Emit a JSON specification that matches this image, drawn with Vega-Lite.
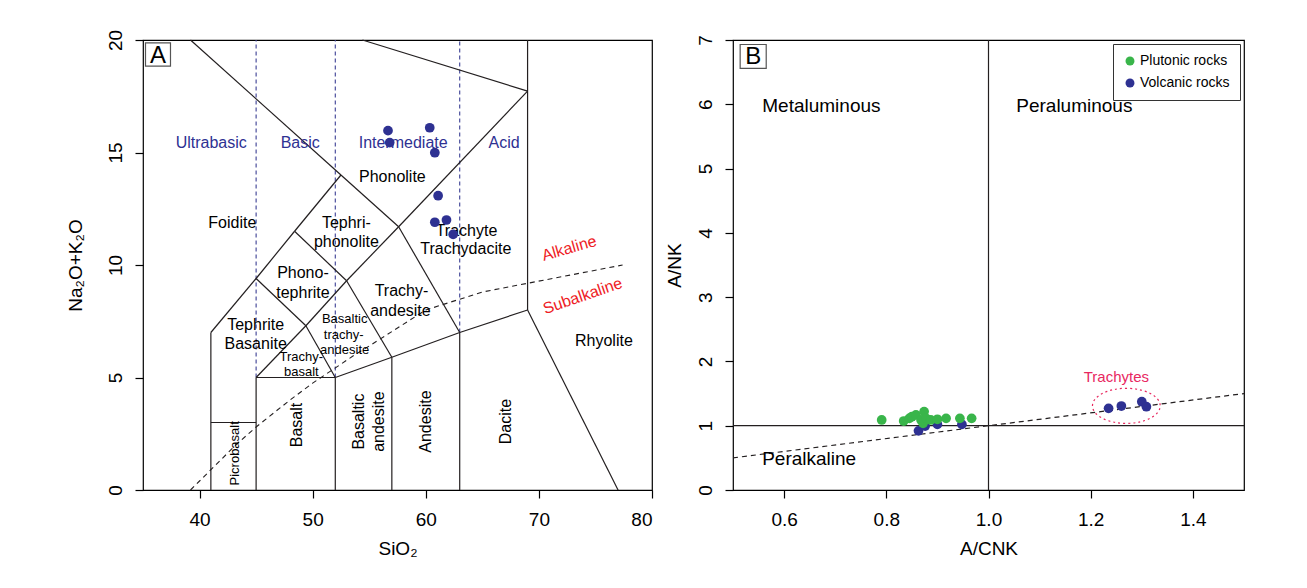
{
  "$schema": "https://vega.github.io/schema/vega-lite/v6.json",
  "background": "white",
  "padding": {"left": 65, "top": 28, "right": 5, "bottom": 5},
  "spacing": 10,
  "resolve": {"scale": {"color": "independent"}, "legend": {"color": "independent"}},
  "config": {
    "font": "Liberation Sans",
    "view": {"stroke": "#000", "strokeWidth": 1.2},
    "axis": {"domain": false, "grid": false, "ticks": true, "tickSize": 8, "tickColor": "#000", "tickWidth": 1.2, "labelColor": "#000", "labelFontSize": 19, "titleFontSize": 19, "titleFontWeight": "normal", "titleColor": "#000", "labelFont": "Liberation Sans", "titleFont": "Liberation Sans"},
    "axisY": {"labelAngle": 270, "labelAlign": "center", "labelBaseline": "bottom", "labelPadding": 10},
    "axisX": {"labelPadding": 12, "titlePadding": 10}
  },
  "datasets": {
    "tasLines": [
      {"x1": 41, "y1": 0, "x2": 41, "y2": 7},
      {"x1": 41, "y1": 7, "x2": 45, "y2": 9.4},
      {"x1": 45, "y1": 9.4, "x2": 48.4, "y2": 11.5},
      {"x1": 48.4, "y1": 11.5, "x2": 52.5, "y2": 14},
      {"x1": 52.5, "y1": 14, "x2": 39.2, "y2": 20},
      {"x1": 45, "y1": 9.4, "x2": 49.4, "y2": 7.3},
      {"x1": 49.4, "y1": 7.3, "x2": 52, "y2": 5},
      {"x1": 45, "y1": 5, "x2": 49.4, "y2": 7.3},
      {"x1": 49.4, "y1": 7.3, "x2": 53, "y2": 9.3},
      {"x1": 53, "y1": 9.3, "x2": 57.6, "y2": 11.7},
      {"x1": 57.6, "y1": 11.7, "x2": 69, "y2": 17.73},
      {"x1": 48.4, "y1": 11.5, "x2": 53, "y2": 9.3},
      {"x1": 53, "y1": 9.3, "x2": 57, "y2": 5.9},
      {"x1": 52.5, "y1": 14, "x2": 57.6, "y2": 11.7},
      {"x1": 57.6, "y1": 11.7, "x2": 63, "y2": 7},
      {"x1": 45, "y1": 5, "x2": 52, "y2": 5},
      {"x1": 45, "y1": 0, "x2": 45, "y2": 5},
      {"x1": 41, "y1": 3, "x2": 45, "y2": 3},
      {"x1": 52, "y1": 0, "x2": 52, "y2": 5},
      {"x1": 52, "y1": 5, "x2": 57, "y2": 5.9},
      {"x1": 57, "y1": 5.9, "x2": 63, "y2": 7},
      {"x1": 63, "y1": 7, "x2": 69, "y2": 8},
      {"x1": 57, "y1": 0, "x2": 57, "y2": 5.9},
      {"x1": 63, "y1": 0, "x2": 63, "y2": 7},
      {"x1": 69, "y1": 8, "x2": 69, "y2": 20},
      {"x1": 69, "y1": 8, "x2": 77, "y2": 0},
      {"x1": 69, "y1": 17.73, "x2": 54.4, "y2": 20}
    ],
    "tasDash": [
      {"x1": 45, "y1": 5, "y2": 20},
      {"x1": 52, "y1": 5, "y2": 20},
      {"x1": 63, "y1": 7, "y2": 20}
    ],
    "alkCurve": [
      {"x": 39.2, "y": 0}, {"x": 40, "y": 0.4}, {"x": 43.2, "y": 2}, {"x": 45, "y": 2.8},
      {"x": 48, "y": 4}, {"x": 50, "y": 4.75}, {"x": 53.7, "y": 6}, {"x": 55, "y": 6.4},
      {"x": 60, "y": 8}, {"x": 65, "y": 8.8}, {"x": 77.4, "y": 10}
    ],
    "tasText16": [
      {"t": "Foidite", "x": 42.9, "y": 11.88},
      {"t": "Phonolite", "x": 57.05, "y": 13.9},
      {"t": "Tephri-", "x": 52.98, "y": 11.85},
      {"t": "phonolite", "x": 52.98, "y": 11.02},
      {"t": "Phono-", "x": 49.14, "y": 9.66},
      {"t": "tephrite", "x": 49.14, "y": 8.77},
      {"t": "Trachyte", "x": 63.6, "y": 11.52},
      {"t": "Trachydacite", "x": 63.54, "y": 10.7},
      {"t": "Trachy-", "x": 57.85, "y": 8.86},
      {"t": "andesite", "x": 57.76, "y": 7.97},
      {"t": "Tephrite", "x": 44.96, "y": 7.33},
      {"t": "Basanite", "x": 44.96, "y": 6.47},
      {"t": "Rhyolite", "x": 75.75, "y": 6.64}
    ],
    "tasText13": [
      {"t": "Basaltic", "x": 52.83, "y": 7.6},
      {"t": "trachy-", "x": 52.74, "y": 6.89},
      {"t": "andesite", "x": 52.83, "y": 6.22},
      {"t": "Trachy-", "x": 49.0, "y": 5.9},
      {"t": "basalt", "x": 49.0, "y": 5.26}
    ],
    "tasRot16": [
      {"t": "Basalt", "x": 48.6, "y": 2.89},
      {"t": "Basaltic", "x": 54.07, "y": 3.04},
      {"t": "andesite", "x": 55.87, "y": 3.04},
      {"t": "Andesite", "x": 60.0, "y": 3.04},
      {"t": "Dacite", "x": 67.05, "y": 3.04}
    ],
    "tasRot13": [
      {"t": "Picrobasalt", "x": 43.1, "y": 1.63}
    ],
    "tasBlue": [
      {"t": "Ultrabasic", "x": 41.03, "y": 15.41},
      {"t": "Basic", "x": 48.9, "y": 15.41},
      {"t": "Intermediate", "x": 58.0, "y": 15.41},
      {"t": "Acid", "x": 66.93, "y": 15.41}
    ],
    "tasAlk": [{"t": "Alkaline", "x": 72.68, "y": 10.74}],
    "tasSub": [{"t": "Subalkaline", "x": 73.87, "y": 8.62}],
    "tasPoints": [
      {"x": 56.66, "y": 15.97}, {"x": 56.81, "y": 15.44}, {"x": 60.35, "y": 16.1},
      {"x": 60.8, "y": 14.99}, {"x": 61.09, "y": 13.08}, {"x": 60.8, "y": 11.9},
      {"x": 61.83, "y": 12.0}, {"x": 62.42, "y": 11.36}
    ],
    "boxA": [{"t": "A", "x1": 35.22, "x2": 37.43, "y1": 18.84, "y2": 19.87, "x": 36.33, "y": 19.35}],
    "boxB": [{"t": "B", "x1": 0.514, "x2": 0.565, "y1": 6.56, "y2": 6.93, "x": 0.5395, "y": 6.745}],
    "bLines": [
      {"x1": 1.0, "y1": 0, "x2": 1.0, "y2": 7},
      {"x1": 0.5, "y1": 1, "x2": 1.5, "y2": 1}
    ],
    "bDash": [{"x1": 0.5, "y1": 0.5, "x2": 1.5, "y2": 1.5}],
    "bPoints": [
      {"g": "Volcanic rocks", "x": 0.863, "y": 0.92},
      {"g": "Volcanic rocks", "x": 0.876, "y": 0.995},
      {"g": "Volcanic rocks", "x": 0.9, "y": 1.02},
      {"g": "Volcanic rocks", "x": 0.948, "y": 1.02},
      {"g": "Volcanic rocks", "x": 1.235, "y": 1.27},
      {"g": "Volcanic rocks", "x": 1.26, "y": 1.306},
      {"g": "Volcanic rocks", "x": 1.3, "y": 1.373},
      {"g": "Volcanic rocks", "x": 1.309, "y": 1.296},
      {"g": "Plutonic rocks", "x": 0.791, "y": 1.089},
      {"g": "Plutonic rocks", "x": 0.834, "y": 1.073},
      {"g": "Plutonic rocks", "x": 0.845, "y": 1.115},
      {"g": "Plutonic rocks", "x": 0.85, "y": 1.14},
      {"g": "Plutonic rocks", "x": 0.858, "y": 1.167},
      {"g": "Plutonic rocks", "x": 0.868, "y": 1.089},
      {"g": "Plutonic rocks", "x": 0.874, "y": 1.22},
      {"g": "Plutonic rocks", "x": 0.872, "y": 1.037},
      {"g": "Plutonic rocks", "x": 0.878, "y": 1.115},
      {"g": "Plutonic rocks", "x": 0.887, "y": 1.089},
      {"g": "Plutonic rocks", "x": 0.9, "y": 1.1},
      {"g": "Plutonic rocks", "x": 0.917, "y": 1.115},
      {"g": "Plutonic rocks", "x": 0.944, "y": 1.115},
      {"g": "Plutonic rocks", "x": 0.967, "y": 1.115}
    ],
    "bEllipse": [{"x": 1.2697, "y": 1.309}],
    "bText19": [
      {"t": "Metaluminous", "x": 0.673, "y": 5.977},
      {"t": "Peraluminous", "x": 1.168, "y": 5.977},
      {"t": "Peralkaline", "x": 0.649, "y": 0.49}
    ],
    "bTrach": [{"t": "Trachytes", "x": 1.2503, "y": 1.762}]
  },
  "hconcat": [
    {
      "width": 509,
      "height": 450,
      "layer": [
        {
          "data": {"name": "tasDash"},
          "mark": {"type": "rule", "color": "#3B3F94", "strokeWidth": 1.1, "strokeDash": [4, 3]},
          "encoding": {
            "x": {"field": "x1", "type": "quantitative", "scale": {"domain": [35, 80], "nice": false, "zero": false}, "axis": {"values": [40, 50, 60, 70, 80], "title": "SiO₂"}},
            "y": {"field": "y1", "type": "quantitative", "scale": {"domain": [0, 20], "nice": false, "zero": false}, "axis": {"values": [0, 5, 10, 15, 20], "format": "d", "title": "Na₂O+K₂O", "titlePadding": 21}},
            "y2": {"field": "y2"}
          }
        },
        {
          "data": {"name": "tasLines"},
          "mark": {"type": "rule", "color": "#231F20", "strokeWidth": 1.2},
          "encoding": {
            "x": {"field": "x1", "type": "quantitative"},
            "y": {"field": "y1", "type": "quantitative"},
            "x2": {"field": "x2"},
            "y2": {"field": "y2"}
          }
        },
        {
          "data": {"name": "alkCurve"},
          "mark": {"type": "line", "color": "#231F20", "strokeWidth": 1.1, "strokeDash": [5, 4]},
          "encoding": {
            "x": {"field": "x", "type": "quantitative"},
            "y": {"field": "y", "type": "quantitative"}
          }
        },
        {
          "data": {"name": "boxA"},
          "mark": {"type": "rect", "fill": "white", "stroke": "#555", "strokeWidth": 1.2},
          "encoding": {
            "x": {"field": "x1", "type": "quantitative"},
            "x2": {"field": "x2"},
            "y": {"field": "y1", "type": "quantitative"},
            "y2": {"field": "y2"}
          }
        },
        {
          "data": {"name": "boxA"},
          "mark": {"type": "text", "fontSize": 24, "color": "#000", "align": "center", "baseline": "middle", "dy": 1},
          "encoding": {
            "x": {"field": "x", "type": "quantitative"},
            "y": {"field": "y", "type": "quantitative"},
            "text": {"field": "t"}
          }
        },
        {
          "data": {"name": "tasText16"},
          "mark": {"type": "text", "fontSize": 16, "color": "#000", "align": "center", "baseline": "middle"},
          "encoding": {
            "x": {"field": "x", "type": "quantitative"},
            "y": {"field": "y", "type": "quantitative"},
            "text": {"field": "t"}
          }
        },
        {
          "data": {"name": "tasText13"},
          "mark": {"type": "text", "fontSize": 13, "color": "#000", "align": "center", "baseline": "middle"},
          "encoding": {
            "x": {"field": "x", "type": "quantitative"},
            "y": {"field": "y", "type": "quantitative"},
            "text": {"field": "t"}
          }
        },
        {
          "data": {"name": "tasRot16"},
          "mark": {"type": "text", "fontSize": 16, "color": "#000", "align": "center", "baseline": "middle", "angle": 270},
          "encoding": {
            "x": {"field": "x", "type": "quantitative"},
            "y": {"field": "y", "type": "quantitative"},
            "text": {"field": "t"}
          }
        },
        {
          "data": {"name": "tasRot13"},
          "mark": {"type": "text", "fontSize": 13, "color": "#000", "align": "center", "baseline": "middle", "angle": 270},
          "encoding": {
            "x": {"field": "x", "type": "quantitative"},
            "y": {"field": "y", "type": "quantitative"},
            "text": {"field": "t"}
          }
        },
        {
          "data": {"name": "tasBlue"},
          "mark": {"type": "text", "fontSize": 16, "color": "#2E3192", "align": "center", "baseline": "middle"},
          "encoding": {
            "x": {"field": "x", "type": "quantitative"},
            "y": {"field": "y", "type": "quantitative"},
            "text": {"field": "t"}
          }
        },
        {
          "data": {"name": "tasAlk"},
          "mark": {"type": "text", "fontSize": 16, "color": "#EE1C25", "align": "center", "baseline": "middle", "angle": 344},
          "encoding": {
            "x": {"field": "x", "type": "quantitative"},
            "y": {"field": "y", "type": "quantitative"},
            "text": {"field": "t"}
          }
        },
        {
          "data": {"name": "tasSub"},
          "mark": {"type": "text", "fontSize": 16, "color": "#EE1C25", "align": "center", "baseline": "middle", "angle": 341},
          "encoding": {
            "x": {"field": "x", "type": "quantitative"},
            "y": {"field": "y", "type": "quantitative"},
            "text": {"field": "t"}
          }
        },
        {
          "data": {"name": "tasPoints"},
          "mark": {"type": "circle", "color": "#2E3192", "size": 95, "opacity": 1},
          "encoding": {
            "x": {"field": "x", "type": "quantitative"},
            "y": {"field": "y", "type": "quantitative"}
          }
        }
      ]
    },
    {
      "width": 511,
      "height": 450,
      "layer": [
        {
          "data": {"name": "bLines"},
          "mark": {"type": "rule", "color": "#231F20", "strokeWidth": 1.2},
          "encoding": {
            "x": {"field": "x1", "type": "quantitative", "scale": {"domain": [0.5, 1.5], "nice": false, "zero": false}, "axis": {"values": [0.6, 0.8, 1.0, 1.2, 1.4], "format": ".1f", "title": "A/CNK"}},
            "y": {"field": "y1", "type": "quantitative", "scale": {"domain": [0, 7], "nice": false, "zero": false}, "axis": {"values": [0, 1, 2, 3, 4, 5, 6, 7], "format": "d", "title": "A/NK", "titlePadding": 12}},
            "x2": {"field": "x2"},
            "y2": {"field": "y2"}
          }
        },
        {
          "data": {"name": "bDash"},
          "mark": {"type": "rule", "color": "#231F20", "strokeWidth": 1.2, "strokeDash": [5, 4]},
          "encoding": {
            "x": {"field": "x1", "type": "quantitative"},
            "y": {"field": "y1", "type": "quantitative"},
            "x2": {"field": "x2"},
            "y2": {"field": "y2"}
          }
        },
        {
          "data": {"name": "bText19"},
          "mark": {"type": "text", "fontSize": 19, "color": "#000", "align": "center", "baseline": "middle"},
          "encoding": {
            "x": {"field": "x", "type": "quantitative"},
            "y": {"field": "y", "type": "quantitative"},
            "text": {"field": "t"}
          }
        },
        {
          "data": {"name": "bTrach"},
          "mark": {"type": "text", "fontSize": 15, "color": "#E8285F", "align": "center", "baseline": "middle"},
          "encoding": {
            "x": {"field": "x", "type": "quantitative"},
            "y": {"field": "y", "type": "quantitative"},
            "text": {"field": "t"}
          }
        },
        {
          "data": {"name": "bEllipse"},
          "mark": {"type": "point", "shape": "M -1 0 A 1 0.518 0 1 1 1 0 A 1 0.518 0 1 1 -1 0 Z", "size": 4583, "filled": false, "stroke": "#E8285F", "strokeWidth": 1.2, "strokeDash": [2, 3], "opacity": 1},
          "encoding": {
            "x": {"field": "x", "type": "quantitative"},
            "y": {"field": "y", "type": "quantitative"}
          }
        },
        {
          "data": {"name": "boxB"},
          "mark": {"type": "rect", "fill": "white", "stroke": "#555", "strokeWidth": 1.2},
          "encoding": {
            "x": {"field": "x1", "type": "quantitative"},
            "x2": {"field": "x2"},
            "y": {"field": "y1", "type": "quantitative"},
            "y2": {"field": "y2"}
          }
        },
        {
          "data": {"name": "boxB"},
          "mark": {"type": "text", "fontSize": 24, "color": "#000", "align": "center", "baseline": "middle", "dy": 1},
          "encoding": {
            "x": {"field": "x", "type": "quantitative"},
            "y": {"field": "y", "type": "quantitative"},
            "text": {"field": "t"}
          }
        },
        {
          "data": {"name": "bPoints"},
          "mark": {"type": "circle", "size": 95, "opacity": 1},
          "encoding": {
            "x": {"field": "x", "type": "quantitative"},
            "y": {"field": "y", "type": "quantitative"},
            "color": {
              "field": "g",
              "type": "nominal",
              "scale": {"domain": ["Plutonic rocks", "Volcanic rocks"], "range": ["#39B54A", "#2E3192"]},
              "legend": {"orient": "top-right", "offset": 4, "title": null, "strokeColor": "#333", "fillColor": "#fff", "padding": 10, "labelFontSize": 14, "labelFont": "Liberation Sans", "labelColor": "#000", "symbolSize": 80, "symbolType": "circle", "rowPadding": 8, "labelOffset": 3, "symbolStrokeWidth": 0}
            }
          }
        }
      ]
    }
  ]
}
